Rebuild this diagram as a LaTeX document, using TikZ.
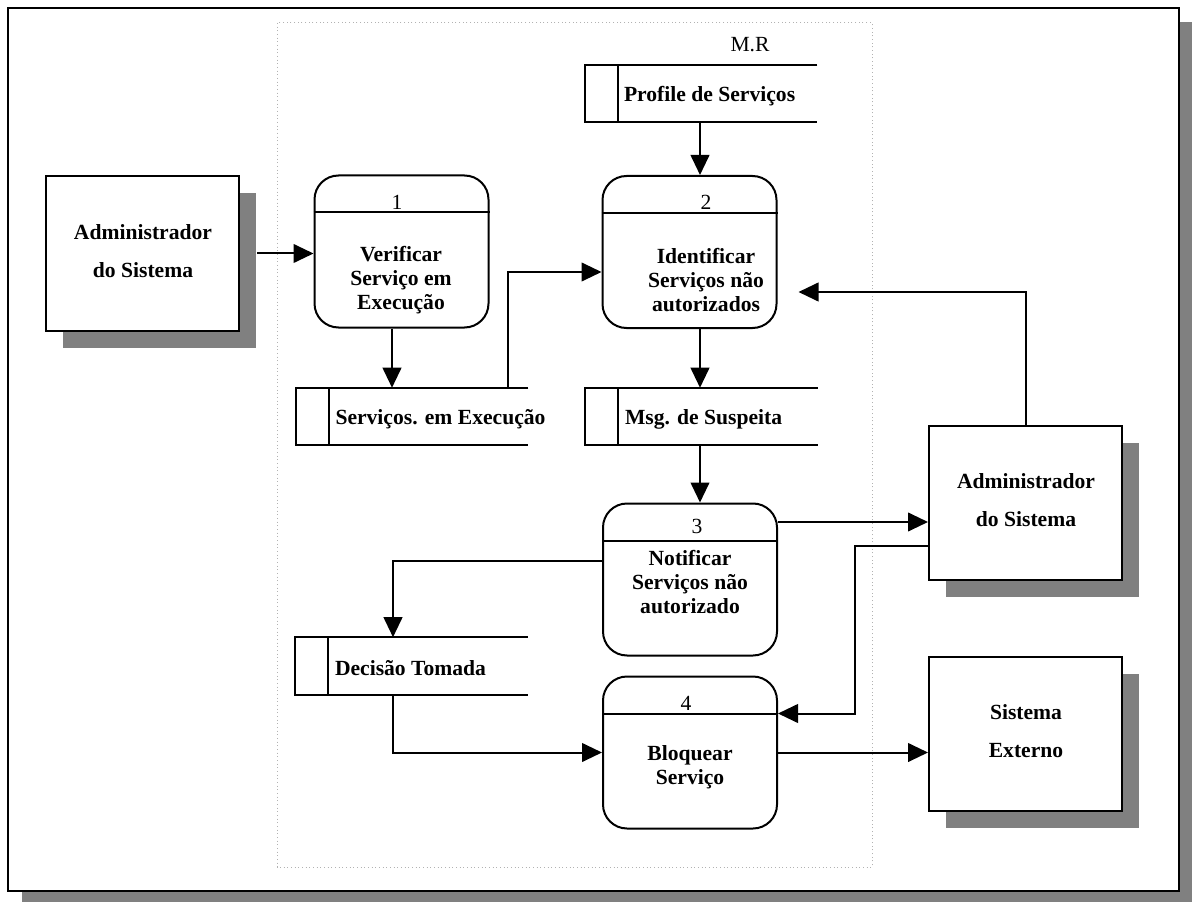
\documentclass[tikz,border=0pt]{standalone}
\usepackage{fontspec}
\setmainfont{Liberation Serif}
\usetikzlibrary{arrows.meta,shadows,calc}

% open-ended data store: top, left, bottom edges and the id divider
\newcommand\storelines[1]{%
  \draw[line] (#1.north east) -- (#1.north west) -- (#1.south west) -- (#1.south east);
  \draw[line] ($(#1.north west)+(33,0)$) -- ($(#1.south west)+(33,0)$);}

\begin{document}
\begin{tikzpicture}[x=0.75pt,y=-0.75pt,
  line/.style={line width=1.5pt},
  arr/.style={line width=1.5pt,-{Triangle[length=15pt,width=14pt]}},
  entity/.style={draw,line width=1.5pt,fill=white,inner sep=0pt,
    minimum width=144.75pt,minimum height=115.5pt,
    drop shadow={shadow xshift=12.75pt,shadow yshift=-12.75pt,fill=black!50,opacity=1}},
  etext/.style={align=center,font=\bfseries\fontsize{16.2}{28.5}\selectfont,inner sep=0pt},
  process/.style={draw,line width=1.5pt,fill=white,rounded corners=18pt,inner sep=0pt,
    minimum width=130.5pt,minimum height=114pt},
  ptext/.style={align=center,font=\bfseries\fontsize{16.2}{18}\selectfont,inner sep=0pt},
  pnum/.style={font=\fontsize{16.2}{18}\selectfont,inner sep=0pt},
  store/.style={inner sep=0pt,minimum width=174pt,minimum height=42.75pt},
  stext/.style={anchor=west,font=\bfseries\fontsize{16.2}{18}\selectfont,inner sep=0pt}]

\useasboundingbox (0,0) rectangle (1192,902);

% page frame with its shadow
\fill[black!50] (22,22) rectangle (1192,902);
\draw[line,fill=white] (8,8) rectangle (1179,891);

% system boundary
\draw[black!30,dotted,line width=0.75pt] (277,23) rectangle (872,867);

% external entities
\node[entity] (e1) at (142.5,253.5) {};
\node[etext] (e1t) at (143,251) {Administrador\\do Sistema};
\node[entity] (e2) at (1025.5,503) {};
\node[etext] (e2t) at (1026,500.5) {Administrador\\do Sistema};
\node[entity] (e3) at (1025.5,734) {};
\node[etext] (e3t) at (1026,731) {Sistema\\Externo};

% processes
\node[process] (p1) at (401.5,251.5) {};
\node[process] (p2) at (689.5,252) {};
\node[process] (p3) at (690,579.5) {};
\node[process] (p4) at (690,752.5) {};
\foreach \p in {p1,p2,p3,p4}
  \draw[line] ($(\p.north west)+(0,38)$) -- ($(\p.north east)+(0,38)$);

\node[pnum] (n1) at (397,202) {1};
\node[pnum] (n2) at (706,202) {2};
\node[pnum] (n3) at (697,526) {3};
\node[pnum] (n4) at (686,703) {4};

\node[ptext] (p1t) at (401,280) {Verificar\\Serviço em\\Execução};
\node[ptext] (p2t) at (706,280.5) {Identificar\\Serviços não\\autorizados};
\node[ptext] (p3t) at (690,582.5) {Notificar\\Serviços não\\autorizado};
\node[ptext] (p4t) at (690,767.5) {Bloquear\\Serviço};

% data stores
\node[store] (sprof) at (701,93.5) {};
\node[store] (sexec) at (412,416.5) {};
\node[store] (smsg) at (701.5,416.5) {};
\node[store] (sdec) at (411.5,666) {};
\storelines{sprof}
\storelines{sexec}
\storelines{smsg}
\storelines{sdec}
\node[stext] (sproft) at ($(sprof.west)+(39,2.5)$) {Profile de Serviços};
\node[stext] (sexect) at ($(sexec.west)+(39.5,2.5)$) {Serviços. em Execução};
\node[stext] (smsgt) at ($(smsg.west)+(39.5,2.5)$) {Msg. de Suspeita};
\node[stext] (sdect) at ($(sdec.west)+(39.5,2)$) {Decisão Tomada};
\node[pnum] (mr) at (750,45) {M.R};

% data flows
\coordinate (a1) at ($(e1.east)+(17,0)$);
\draw[arr] (a1) -- (a1 -| p1.west);

\coordinate (a2) at ($(p1.south)+(-9.5,0)$);
\draw[arr] (a2) -- (a2 |- sexec.north);

\coordinate (a3) at ($(sexec.north)+(96,0)$);
\coordinate (a3e) at ($(p2.west)+(0,20)$);
\draw[arr] (a3) |- (a3e);

\coordinate (a4) at ($(sprof.south)+(-1,0)$);
\draw[arr] (a4) -- (a4 |- p2.north);

\coordinate (a5e) at ($(p2.east)+(21,40)$);
\draw[arr] (e2.north) |- (a5e);

\coordinate (a6) at ($(p2.south)+(10.5,0)$);
\draw[arr] (a6) -- (a6 |- smsg.north);

\coordinate (a7) at ($(smsg.south)+(-1.5,0)$);
\draw[arr] (a7) -- (a7 |- p3.north);

\coordinate (a8) at ($(p3.east)+(0,-57.5)$);
\draw[arr] (a8) -- (a8 -| e2.west);

\coordinate (a9) at ($(e2.west)+(0,43)$);
\coordinate (a9e) at ($(p4.north east)+(0,38)$);
\draw[arr] (a9) -- (855,546) |- (a9e);

\coordinate (a10) at ($(p3.west)+(0,-18.5)$);
\coordinate (a10e) at ($(sdec.north)+(-18.5,0)$);
\draw[arr] (a10) -| (a10e);

\coordinate (a11) at ($(sdec.south)+(-18.5,0)$);
\draw[arr] (a11) |- (p4.west);

\draw[arr] (p4.east) -- (p4.east -| e3.west);

\end{tikzpicture}
\end{document}
